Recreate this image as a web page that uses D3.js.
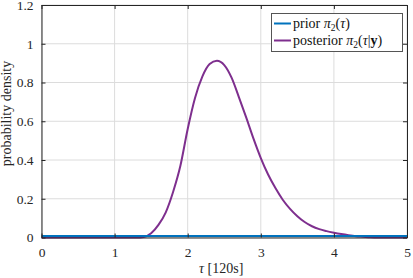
<!DOCTYPE html>
<html>
<head>
<meta charset="utf-8">
<script src="https://cdn.jsdelivr.net/npm/d3@7"></script>
<style>
  body { margin: 0; background: white; }
  text { font-family: "Liberation Serif", "DejaVu Serif", serif; }
</style>
</head>
<body>
<div id="chart"></div>
<script>
var width = 413,
    height = 278

// plot box
var margin = {top: 5, right: 6, bottom: 40.5, left: 41.5}

// data
var tau = [0, 0.5, 1.0, 1.3, 1.4, 1.5, 1.6, 1.7, 1.8, 1.9, 2.0, 2.1, 2.2, 2.3, 2.4, 2.5, 2.6, 2.7, 2.8, 2.9,
           3.0, 3.1, 3.2, 3.3, 3.4, 3.5, 3.6, 3.7, 3.8, 3.9, 4.0, 4.1, 4.2, 4.3, 4.4, 4.5, 4.6, 5.0]
var posterior = [0, 0, 0, 0, 0.003, 0.022, 0.065, 0.13, 0.235, 0.37, 0.56, 0.72, 0.83, 0.895, 0.912, 0.89, 0.825, 0.725, 0.62, 0.51,
                 0.41, 0.325, 0.255, 0.195, 0.148, 0.11, 0.08, 0.058, 0.043, 0.033, 0.025, 0.018, 0.012, 0.007, 0.004, 0.001, 0, 0]
var priorTau = [0, 5]
var prior = [1 / 120, 1 / 120]

var xTicks = [0, 1, 2, 3, 4, 5]
var yTicks = [0, 0.2, 0.4, 0.6, 0.8, 1, 1.2]
var legendLabels = ["prior", "posterior"]

var svg = d3.select("#chart")
  .append("svg")
    .attr("width", width)
    .attr("height", height)
    .style("background-color", "white")

var x = d3.scaleLinear().domain([0, 5]).range([margin.left, width - margin.right])
var y = d3.scaleLinear().domain([0, 1.2]).range([height - margin.bottom, margin.top])

// grid
svg.append("g").selectAll("line.gx")
  .data(xTicks).enter().append("line")
    .attr("x1", d => x(d)).attr("x2", d => x(d))
    .attr("y1", y(0)).attr("y2", y(1.2))
    .attr("stroke", "#dcdcdc").attr("stroke-width", 1)
svg.append("g").selectAll("line.gy")
  .data(yTicks).enter().append("line")
    .attr("x1", x(0)).attr("x2", x(5))
    .attr("y1", d => y(d)).attr("y2", d => y(d))
    .attr("stroke", "#dcdcdc").attr("stroke-width", 1)

// lines
var line = d3.line()
  .x(d => x(d[0]))
  .y(d => y(d[1]))
  .curve(d3.curveMonotoneX)

svg.append("path")
  .datum(d3.zip(tau, posterior))
  .attr("d", line)
  .attr("fill", "none")
  .attr("stroke", "#7E2F8E")
  .attr("stroke-width", 2)

svg.append("path")
  .datum(d3.zip(priorTau, prior))
  .attr("d", line)
  .attr("fill", "none")
  .attr("stroke", "#0072BD")
  .attr("stroke-width", 2)

// axes (ticks pointing in, on all four sides)
var axisColor = "#262626"
var fmt = d => d3.format("")(d)

var gx = svg.append("g")
  .attr("transform", "translate(0," + y(0) + ")")
  .call(d3.axisBottom(x).tickValues(xTicks).tickSizeInner(-4).tickSizeOuter(0).tickPadding(10).tickFormat(fmt))
var gxt = svg.append("g")
  .attr("transform", "translate(0," + y(1.2) + ")")
  .call(d3.axisTop(x).tickValues(xTicks).tickSizeInner(-4).tickSizeOuter(0).tickFormat(""))
var gy = svg.append("g")
  .attr("transform", "translate(" + x(0) + ",0)")
  .call(d3.axisLeft(y).tickValues(yTicks).tickSizeInner(-4).tickSizeOuter(0).tickPadding(8).tickFormat(fmt))
var gyr = svg.append("g")
  .attr("transform", "translate(" + x(5) + ",0)")
  .call(d3.axisRight(y).tickValues(yTicks).tickSizeInner(-4).tickSizeOuter(0).tickFormat(""))

;[gx, gxt, gy, gyr].forEach(function(g) {
  g.attr("font-family", null)
  g.select(".domain").attr("stroke", axisColor).attr("stroke-width", 1)
  g.selectAll(".tick line").attr("stroke", axisColor)
  g.selectAll("text").attr("fill", axisColor).style("font-size", "13.5px")
    .style("font-family", "'Liberation Serif', serif")
})

// axis labels
svg.append("text")
  .attr("x", x(2.5) - 3).attr("y", 273)
  .attr("text-anchor", "middle")
  .style("font-size", "14px")
  .attr("fill", axisColor)
  .html("<tspan font-style='italic'>τ</tspan> [120s]")

svg.append("text")
  .attr("transform", "translate(10.5," + y(0.64) + ") rotate(-90)")
  .attr("text-anchor", "middle")
  .style("font-size", "14px")
  .attr("fill", axisColor)
  .text("probability density")

// legend
var lg = svg.append("g")
lg.append("rect")
  .attr("x", 271.5).attr("y", 13.5).attr("width", 131).attr("height", 38)
  .attr("fill", "white").attr("stroke", "#555").attr("stroke-width", 1)

var legendColors = ["#0072BD", "#7E2F8E"]
var legendMath = [
  "<tspan font-style='italic'>π</tspan><tspan font-size='9.5px' dy='3'>2</tspan><tspan dy='-3'>(</tspan><tspan font-style='italic'>τ</tspan>)",
  "<tspan font-style='italic'>π</tspan><tspan font-size='9.5px' dy='3'>2</tspan><tspan dy='-3'>(</tspan><tspan font-style='italic'>τ</tspan>|<tspan font-weight='bold'>y</tspan>)"
]
legendLabels.forEach(function(lab, i) {
  var yy = 23.5 + i * 17
  lg.append("line")
    .attr("x1", 274).attr("x2", 291).attr("y1", yy).attr("y2", yy)
    .attr("stroke", legendColors[i]).attr("stroke-width", 2)
  lg.append("text")
    .attr("x", 293).attr("y", yy + 4.5)
    .style("font-size", "14px")
    .attr("fill", "#111")
    .html(lab + " " + legendMath[i])
})
</script>
</body>
</html>
